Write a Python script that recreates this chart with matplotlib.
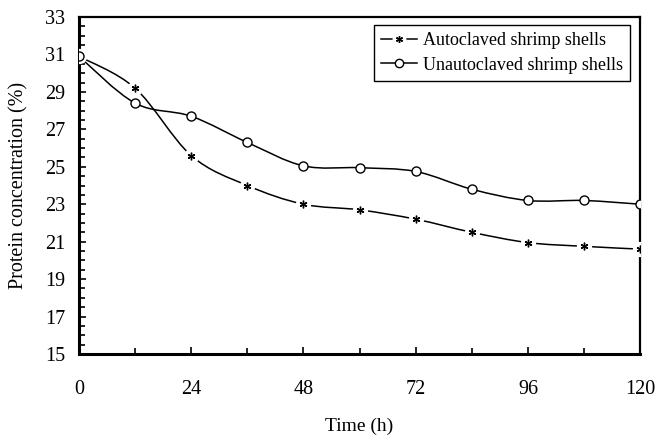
import matplotlib
matplotlib.use('Agg')
import matplotlib.pyplot as plt
import numpy as np
from matplotlib.path import Path
from matplotlib.patches import PathPatch
from matplotlib.ticker import MultipleLocator
from matplotlib.lines import Line2D

time_h = [0, 12, 24, 36, 48, 60, 72, 84, 96, 108, 120]
autoclaved = [30.9, 29.2, 25.6, 24.0, 23.0, 22.7, 22.2, 21.5, 20.95, 20.75, 20.6]
unautoclaved = [30.9, 28.4, 27.7, 26.3, 25.05, 24.95, 24.75, 23.8, 23.2, 23.2, 23.0]
labels = ['Autoclaved shrimp shells', 'Unautoclaved shrimp shells']

plt.rcParams['font.family'] = ['Liberation Serif', 'DejaVu Serif']
plt.rcParams['font.size'] = 13


def smooth_path(xs, ys):
    # Catmull-Rom spline drawn as cubic bezier segments (like excel smoothed lines)
    p = np.column_stack([xs, ys]).astype(float)
    p_ext = np.vstack([p[0], p, p[-1]])
    verts = [p[0]]
    codes = [Path.MOVETO]
    for i in range(len(p) - 1):
        p0, p1, p2, p3 = p_ext[i], p_ext[i + 1], p_ext[i + 2], p_ext[i + 3]
        c1 = p1 + (p2 - p0) / 6.0
        c2 = p2 - (p3 - p1) / 6.0
        verts += [c1, c2, p2]
        codes += [Path.CURVE4] * 3
    return Path(verts, codes)


fig = plt.figure(figsize=(6.58, 4.37), dpi=100)
ax = fig.add_axes([0.12, 0.19, 0.853, 0.771])

ax.add_patch(PathPatch(smooth_path(time_h, unautoclaved), fill=False, color='black', lw=1.1, zorder=2))
ax.add_patch(PathPatch(smooth_path(time_h, autoclaved), fill=False, color='black', lw=1.1, zorder=2))

# white gaps around the star markers
ax.plot(time_h, autoclaved, ls='none', marker='o', ms=10, mfc='white', mec='white', zorder=3)
ax.plot(time_h, autoclaved, ls='none', marker=(6, 2, 0), ms=5.5, mec='black', mew=1.0, zorder=4)
ax.plot(time_h, unautoclaved, ls='none', marker='o', ms=6.5, mfc='white', mec='black', mew=1.0, zorder=5)

ax.set_xlim(0, 120)
ax.set_ylim(15, 33)
ax.xaxis.set_major_locator(MultipleLocator(24))
ax.xaxis.set_minor_locator(MultipleLocator(12))
ax.yaxis.set_major_locator(MultipleLocator(2, offset=1))
ax.yaxis.set_minor_locator(MultipleLocator(0.5))
ax.tick_params(axis='x', which='both', direction='in', pad=19, top=False, labelsize=14.5)
ax.tick_params(axis='y', which='both', direction='in', pad=10, right=False, labelsize=14.5)
ax.tick_params(which='major', length=5, width=1.2)
ax.tick_params(which='minor', length=4, width=1.2)

for s in ['left', 'bottom']:
    ax.spines[s].set_linewidth(2.2)
for s in ['top', 'right']:
    ax.spines[s].set_linewidth(1.6)

ax.set_xlabel('Time (h)', labelpad=13, fontsize=14)
ax.set_ylabel('Protein concentration (%)', labelpad=12, fontsize=14.5)

l1 = Line2D([], [], color='black', lw=1.1)
g1 = Line2D([], [], ls='none', marker='o', ms=9, mfc='white', mec='white')
s1 = Line2D([], [], ls='none', marker=(6, 2, 0), ms=5, mec='black', mew=1.0)
h2 = Line2D([], [], color='black', lw=1.1, marker='o', ms=6, mfc='white', mew=1.0)
leg = ax.legend([(l1, g1, s1), h2], labels, loc='upper right', bbox_to_anchor=(0.982, 0.976),
                borderaxespad=0, fancybox=False, edgecolor='black', framealpha=1, numpoints=1,
                handlelength=2.0, handletextpad=0.3, borderpad=0.4, labelspacing=0.4)
leg.get_frame().set_linewidth(1.0)

plt.savefig('out.png', dpi=100)
